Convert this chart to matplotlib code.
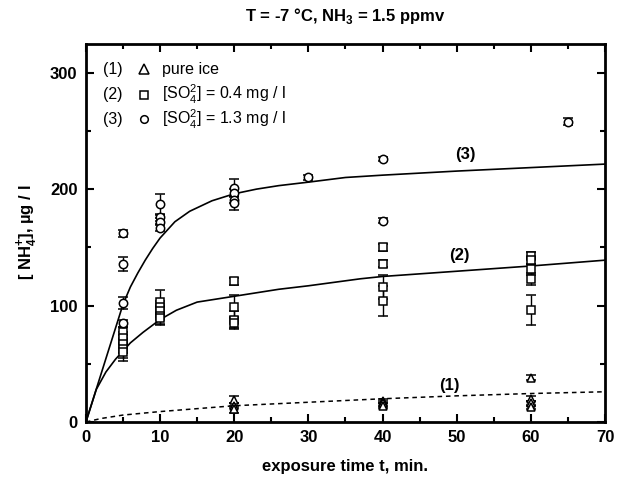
import matplotlib
matplotlib.use("Agg")
import matplotlib.pyplot as plt
from matplotlib.ticker import MultipleLocator

plt.rcParams['font.family'] = ['Liberation Sans', 'DejaVu Sans']
plt.rcParams['mathtext.fontset'] = 'custom'
plt.rcParams['mathtext.rm'] = 'Liberation Sans'
plt.rcParams['mathtext.bf'] = 'Liberation Sans:bold'

# measured data: (time, value, error)
ice_t = [20, 20, 20, 40, 40, 40, 60, 60, 60, 60]
ice_y = [19, 14, 11, 18, 16, 14, 38, 20, 16, 13]
ice_err = [3, 2, 3, 2, 2, 2, 2, 2, 2, 2]

so4_low_t = [5, 5, 5, 5, 5, 10, 10, 10, 10, 10, 20, 20, 20, 20, 40, 40, 40, 40, 60, 60, 60, 60, 60]
so4_low_y = [77, 72, 67, 63, 60, 103, 99, 95, 91, 89, 121, 99, 88, 85, 150, 136, 116, 104, 143, 139, 131, 123, 96]
so4_low_err = [5, 5, 8, 8, 8, 10, 5, 5, 8, 5, 3, 10, 7, 5, 3, 3, 10, 13, 3, 3, 5, 5, 13]

so4_high_t = [5, 5, 5, 5, 10, 10, 10, 10, 20, 20, 20, 20, 30, 40, 40, 65]
so4_high_y = [162, 136, 102, 85, 187, 176, 172, 167, 201, 197, 191, 188, 210, 226, 173, 258]
so4_high_err = [3, 6, 5, 3, 9, 3, 3, 3, 8, 3, 3, 6, 2, 2, 2, 3]

# fitted curves
fit1_t = [0, 2, 5, 10, 20, 30, 40, 50, 60, 70]
fit1_y = [0, 3, 6, 9, 14, 17, 20, 22.5, 24.5, 26]

fit2_t = [0, 1.4, 2.7, 4, 5, 6, 7.7, 10, 12.2, 15, 20, 26, 30, 37, 40, 50, 60, 70]
fit2_y = [0, 28, 43, 54, 61, 68, 77, 88, 96, 103, 108, 114, 117, 123, 125, 129.5, 134, 139]

fit3_t = [0, 5, 6, 7, 8, 9, 10, 12, 14, 17, 20, 23, 26, 30, 35, 40, 50, 60, 70]
fit3_y = [0, 101, 116, 128, 139, 149, 158, 172, 181, 190, 196, 200, 203, 206, 210, 212, 215.5, 218.5, 221.5]

fig = plt.figure(figsize=(6.18, 4.84), dpi=100)
ax = fig.add_axes([0.139, 0.128, 0.840, 0.782])

ax.plot(fit1_t, fit1_y, color='black', lw=1.1, linestyle=(0, (3, 2.5)))
ax.plot(fit2_t, fit2_y, color='black', lw=1.2)
ax.plot(fit3_t, fit3_y, color='black', lw=1.2)

mk = dict(mfc='white', mec='black', mew=1.1, ms=6, ecolor='black', elinewidth=1.0,
          capsize=3.5, capthick=1.0, linestyle='none', zorder=3)
ax.errorbar(ice_t, ice_y, yerr=ice_err, marker='^', **mk)
ax.errorbar(so4_low_t, so4_low_y, yerr=so4_low_err, marker='s', **dict(mk, ms=5.5))
ax.errorbar(so4_high_t, so4_high_y, yerr=so4_high_err, marker='o', **mk)

ax.set_xlim(0, 70)
ax.set_ylim(0, 325)
ax.xaxis.set_major_locator(MultipleLocator(10))
ax.xaxis.set_minor_locator(MultipleLocator(5))
ax.yaxis.set_major_locator(MultipleLocator(100))
ax.yaxis.set_minor_locator(MultipleLocator(50))
ax.tick_params(which='both', direction='in', top=True, right=True, width=1.5)
ax.tick_params(which='major', length=6, labelsize=12, pad=6)
ax.tick_params(which='minor', length=3.5)
for lbl in ax.get_xticklabels() + ax.get_yticklabels():
    lbl.set_fontweight('bold')
for s in ax.spines.values():
    s.set_linewidth(2)

ax.set_xlabel('exposure time t, min.', fontsize=12, fontweight='bold', labelpad=10)
ax.set_ylabel(r'[ NH$_{\mathbf{4}}^{\mathbf{+}}$], µg / l', fontsize=12, fontweight='bold', labelpad=8)
ax.set_title(r'T = -7 °C, NH$_{\mathbf{3}}$ = 1.5 ppmv', fontsize=12, fontweight='bold', pad=16)

# curve labels
ax.text(51.2, 230, '(3)', fontsize=12, fontweight='bold', ha='center', va='center')
ax.text(50.3, 143, '(2)', fontsize=12, fontweight='bold', ha='center', va='center')
ax.text(49.0, 31, '(1)', fontsize=12, fontweight='bold', ha='center', va='center')

# legend drawn as text, like the original
leg_y = [303, 281, 260]
leg_num = ['(1)', '(2)', '(3)']
leg_mark = ['^', 's', 'o']
leg_txt = ['pure ice', r'[SO$_4^{2}$] = 0.4 mg / l', r'[SO$_4^{2}$] = 1.3 mg / l']
for yy, num, m, txt in zip(leg_y, leg_num, leg_mark, leg_txt):
    ax.text(2.3, yy, num, fontsize=11.5, va='center')
    ax.plot([7.8], [yy], marker=m, mfc='white', mec='black', mew=1.1, ms=6.5 if m == '^' else 5.5)
    ax.text(10.3, yy, txt, fontsize=11.5, va='center')

fig.savefig('out.png', dpi=100)
